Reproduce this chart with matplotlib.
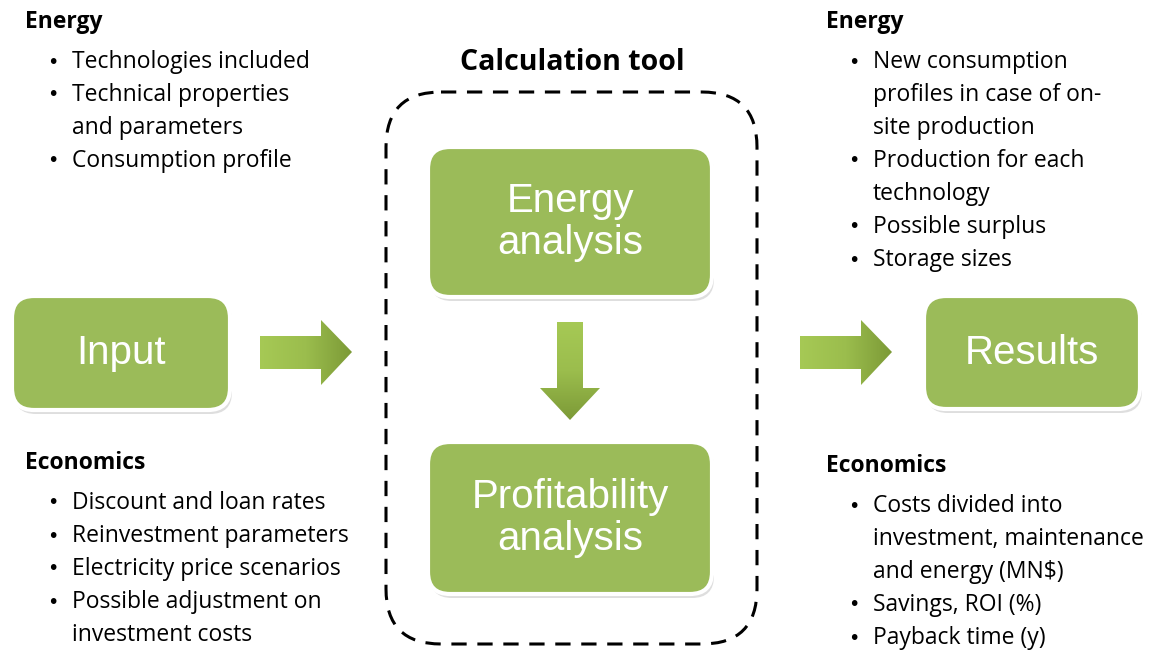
import matplotlib.pyplot as plt
from matplotlib.patches import FancyBboxPatch, Polygon
import numpy as np

plt.rcParams['font.family'] = ['Open Sans', 'DejaVu Sans']

W, H = 1154, 652
GREEN = '#9bbb59'

title = 'Calculation tool'
box_labels = ['Input', 'Energy\nanalysis', 'Profitability\nanalysis', 'Results']

left_energy = ['Technologies included', 'Technical properties\nand parameters',
               'Consumption profile']
left_econ = ['Discount and loan rates', 'Reinvestment parameters',
             'Electricity price scenarios', 'Possible adjustment on\ninvestment costs']
right_energy = ['New consumption\nprofiles in case of on-\nsite production',
                'Production for each\ntechnology', 'Possible surplus', 'Storage sizes']
right_econ = ['Costs divided into\ninvestment, maintenance\nand energy (MN$)',
              'Savings, ROI (%)', 'Payback time (y)']

fig = plt.figure(figsize=(W / 100, H / 100), dpi=100)
ax = fig.add_axes([0, 0, 1, 1])
ax.set_xlim(0, W)
ax.set_ylim(H, 0)
ax.axis('off')


def green_box(x0, y0, x1, y1, label, size):
    # soft shadow, then white rim, then green fill
    shadow = FancyBboxPatch((x0 + 2, y0 + 4), x1 - x0, y1 - y0,
                            boxstyle='round,pad=0,rounding_size=22',
                            fc='#c8c8c8', ec='none', alpha=0.6, zorder=1)
    ax.add_patch(shadow)
    box = FancyBboxPatch((x0, y0), x1 - x0, y1 - y0,
                         boxstyle='round,pad=0,rounding_size=22',
                         fc=GREEN, ec='white', lw=3, zorder=2)
    ax.add_patch(box)
    ax.text((x0 + x1) / 2, (y0 + y1) / 2, label, color='white', fontsize=size,
            ha='center', va='center', family='Liberation Sans',
            linespacing=1.15, zorder=3)


def grad_arrow(pts, horizontal=True):
    poly = Polygon(pts, closed=True, fc='none', ec='none')
    ax.add_patch(poly)
    xs = [p[0] for p in pts]
    ys = [p[1] for p in pts]
    g = np.linspace(0, 1, 256)
    grad = g[None, :] if horizontal else g[:, None]
    cmap = plt.matplotlib.colors.LinearSegmentedColormap.from_list(
        'g', ['#a6c955', '#9bbd4d', '#7c9a37'])
    im = ax.imshow(grad, cmap=cmap, extent=[min(xs), max(xs), max(ys), min(ys)],
                   aspect='auto', zorder=2)
    im.set_clip_path(poly)


def bullets(x, y, head, items, step=33):
    ax.text(x, y, head, fontsize=16.5, fontweight='bold', va='center', ha='left')
    yy = y + 40
    for it in items:
        ax.text(x + 22, yy, '•', fontsize=14, va='center', ha='left',
                family='DejaVu Sans')
        for ln in it.split('\n'):
            ax.text(x + 47, yy, ln, fontsize=16.5, va='center', ha='left')
            yy += step


# dashed frame for the calculation tool
frame = FancyBboxPatch((386, 92), 371, 552, boxstyle='round,pad=0,rounding_size=55',
                       fc='none', ec='black', lw=2.2, ls=(0, (5, 3.5)), zorder=1)
ax.add_patch(frame)
ax.text(572, 62, title, fontsize=20.5, fontweight='bold', ha='center', va='center')

green_box(12, 296, 230, 410, box_labels[0], 29)
green_box(428, 147, 712, 297, box_labels[1], 29)
green_box(428, 442, 712, 594, box_labels[2], 29)
green_box(924, 296, 1140, 409, box_labels[3], 29)

grad_arrow([(260, 336), (321, 336), (321, 320), (352, 352), (321, 385), (321, 369), (260, 369)])
grad_arrow([(800, 336), (861, 336), (861, 320), (892, 352), (861, 385), (861, 369), (800, 369)])
grad_arrow([(557, 322), (583, 322), (583, 388), (600, 388), (570, 420), (540, 388), (557, 388)],
           horizontal=False)

bullets(25, 22, 'Energy', left_energy)
bullets(25, 463, 'Economics', left_econ)
bullets(826, 22, 'Energy', right_energy)
bullets(826, 466, 'Economics', right_econ)

fig.savefig('out.png', dpi=100)
